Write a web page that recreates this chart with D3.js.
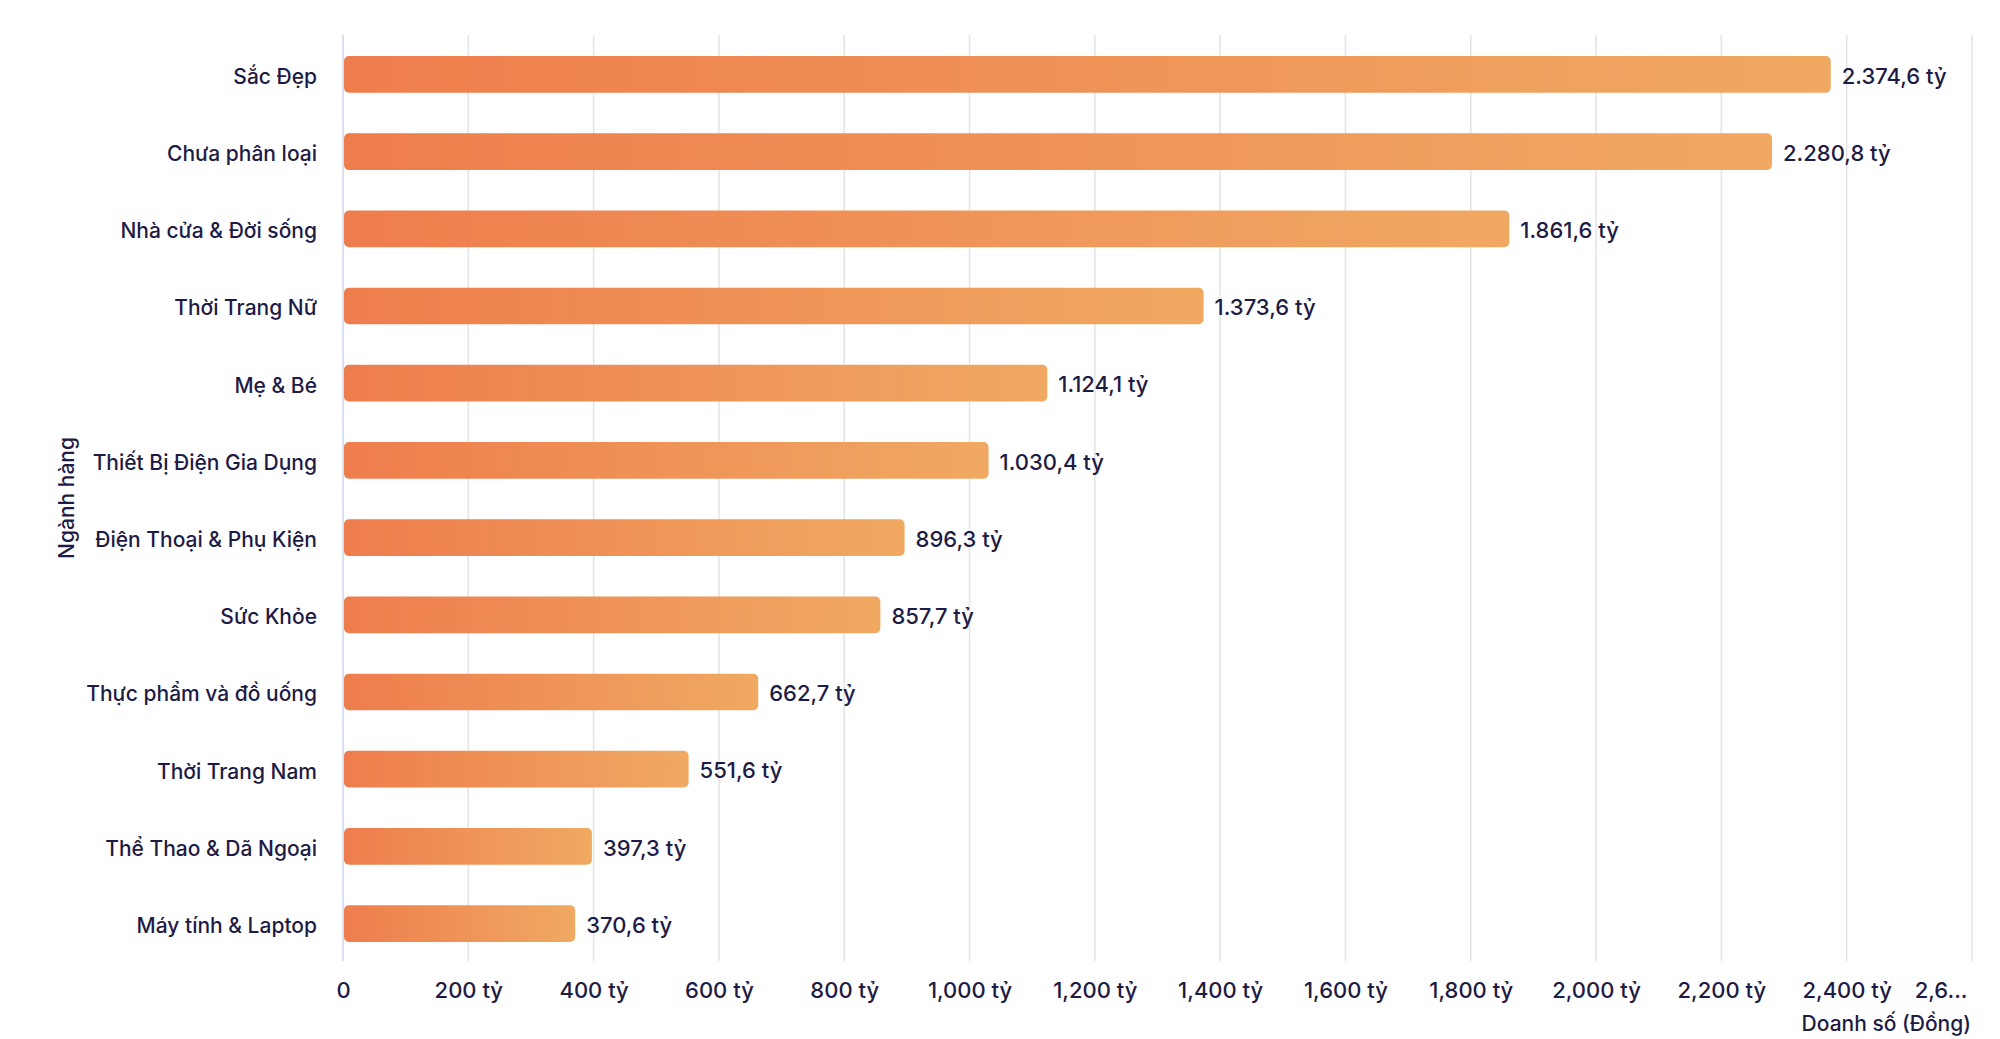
<!DOCTYPE html>
<html><head><meta charset="utf-8">
<script src="https://cdn.jsdelivr.net/npm/d3@7"></script>
<style>
html,body{margin:0;padding:0;background:#fff;}
svg{display:block;font-family:Inter,"Noto Sans",sans-serif;}
</style></head>
<body>
<svg id="chart" width="2000" height="1039"></svg>
<script>
const categories = ["Sắc Đẹp","Chưa phân loại","Nhà cửa & Đời sống","Thời Trang Nữ","Mẹ & Bé","Thiết Bị Điện Gia Dụng","Điện Thoại & Phụ Kiện","Sức Khỏe","Thực phẩm và đồ uống","Thời Trang Nam","Thể Thao & Dã Ngoại","Máy tính & Laptop"];
const values = [2374.6,2280.8,1861.6,1373.6,1124.1,1030.4,896.3,857.7,662.7,551.6,397.3,370.6];
const tickValues = [0,200,400,600,800,1000,1200,1400,1600,1800,2000,2200,2400,2600];
const xTitle = "Doanh số (Đồng)";
const yTitle = "Ngành hàng";

(function(){
const svg = d3.select("#chart");
const mLeft = 343, mRight = 1972, mTop = 35, mBottom = 961;
const textColor = "#1e1b45";

const x = d3.scaleLinear().domain([0,2600]).range([mLeft,mRight]);
const y = d3.scaleBand().domain(categories).range([mTop+1,mBottom+1]).paddingInner(0.525).paddingOuter(0.26);

const vn = d3.formatLocale({decimal:",",thousands:".",grouping:[3],currency:["","₫"]});
const valFmt = vn.format(",.1f");
const tickFmt = d3.format(",");

const defs = svg.append("defs");
const grad = defs.append("linearGradient").attr("id","barGrad").attr("x1","0").attr("x2","1").attr("y1","0").attr("y2","0");
grad.append("stop").attr("offset","0%").attr("stop-color","#ee7d4d");
grad.append("stop").attr("offset","100%").attr("stop-color","#f0a962");

// gridlines
svg.append("g").selectAll("line").data(tickValues.filter(d=>d>0)).join("line")
  .attr("x1",d=>x(d)).attr("x2",d=>x(d)).attr("y1",mTop).attr("y2",mBottom)
  .attr("stroke","#e3e3e3").attr("stroke-width",1.5);
svg.append("line").attr("x1",x(0)).attr("x2",x(0)).attr("y1",mTop).attr("y2",mBottom)
  .attr("stroke","#cdd6ea").attr("stroke-width",1.5);

// x axis
const xAxis = d3.axisBottom(x).tickValues(tickValues).tickSize(0).tickPadding(0)
  .tickFormat(d => d===0 ? "0" : (d===2600 ? "2,6..." : tickFmt(d)+" tỷ"));
const gx = svg.append("g").attr("transform",`translate(0,${mBottom})`).call(xAxis);
gx.select(".domain").remove();
gx.selectAll("text").attr("y",37).attr("dy",0).attr("fill",textColor)
  .style("font-size","22px").style("font-weight","500").style("font-family","Inter");
gx.selectAll(".tick").filter(d=>d===2600).select("text").attr("text-anchor","end").attr("x",-5);

// y axis labels
const yAxis = d3.axisLeft(y).tickSize(0).tickPadding(26);
const gy = svg.append("g").attr("transform",`translate(${mLeft},0)`).call(yAxis);
gy.select(".domain").remove();
gy.selectAll("text").attr("dy","0.45em").attr("fill",textColor).style("font-size","21px").style("font-weight","500").style("font-family","Inter");

// bars
svg.append("g").selectAll("rect").data(values).join("rect")
  .attr("x",x(0)+1).attr("y",(d,i)=>y(categories[i]))
  .attr("width",d=>x(d)-x(0)-1).attr("height",y.bandwidth())
  .attr("rx",5).attr("ry",5).attr("fill","url(#barGrad)");

// value labels
svg.append("g").selectAll("text").data(values).join("text")
  .attr("x",d=>x(d)+11).attr("y",(d,i)=>y(categories[i])+y.bandwidth()/2)
  .attr("dy","0.42em").attr("fill",textColor)
  .style("font-size","22px").style("font-weight","500")
  .text(d=>valFmt(d)+" tỷ");

// titles
svg.append("text").attr("x",1971).attr("y",1031).attr("text-anchor","end")
  .attr("fill",textColor).style("font-size","21px").style("font-weight","500").text(xTitle);
svg.append("text").attr("transform",`translate(74,${(mTop+mBottom)/2}) rotate(-90)`)
  .attr("text-anchor","middle").attr("fill",textColor)
  .style("font-size","21px").style("font-weight","500").text(yTitle);
})();
</script>
</body></html>
